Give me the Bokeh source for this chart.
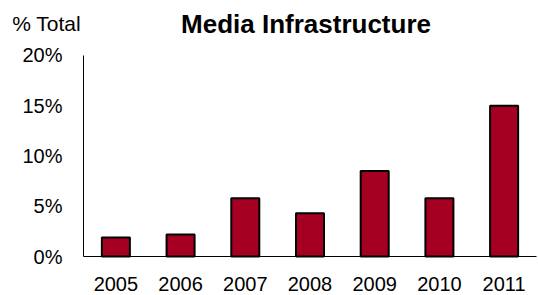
from bokeh.plotting import figure
from bokeh.models import (ColumnDataSource, Range1d, FixedTicker, PrintfTickFormatter,
                          Label, LinearAxis)
from bokeh.embed import file_html
from bokeh.resources import INLINE

years = ["2005", "2006", "2007", "2008", "2009", "2010", "2011"]
values = [1.9, 2.2, 5.8, 4.3, 8.5, 5.8, 15.0]
y_ticks = [0, 5, 10, 15, 20]
title_text = "Media Infrastructure"
y_title = "% Total"

FONT = "Liberation Sans"

positions = list(range(len(years)))
src = ColumnDataSource(data=dict(x=positions, value=values))

# frame covers the whole canvas; axes are placed inside it at fixed locations
p = figure(width=537, height=294,
           x_range=Range1d(-1.783, 6.516), y_range=Range1d(-3.78, 25.47),
           x_axis_location=None, y_axis_location=None,
           output_backend="svg", toolbar_location=None,
           min_border_left=0, min_border_right=0, min_border_top=0, min_border_bottom=0)

p.vbar(x="x", top="value", width=0.433, source=src,
       fill_color="#A50021", line_color="black", line_width=2)

p.xgrid.visible = False
p.ygrid.visible = False
p.outline_line_color = None
p.background_fill_color = "white"
p.border_fill_color = "white"

yaxis = LinearAxis(fixed_location=-0.5, bounds=(0, 20),
                   ticker=FixedTicker(ticks=y_ticks),
                   formatter=PrintfTickFormatter(format="%d%%"))
xaxis = LinearAxis(fixed_location=0, bounds=(-0.5, 6.5),
                   ticker=FixedTicker(ticks=positions),
                   major_label_overrides={i: y for i, y in zip(positions, years)})
for ax in (xaxis, yaxis):
    ax.major_tick_line_color = None
    ax.minor_tick_line_color = None
    ax.major_tick_out = 0
    ax.major_tick_in = 0
    ax.axis_line_color = "black"
    ax.axis_line_width = 1
    ax.major_label_text_font = FONT
    ax.major_label_text_font_size = "20px"
    ax.major_label_text_color = "black"
yaxis.major_label_standoff = 21
xaxis.major_label_standoff = 20
p.add_layout(yaxis, "left")
p.add_layout(xaxis, "below")

p.add_layout(Label(x=305.5, y=23, x_units="canvas", y_units="canvas", text=title_text,
                   text_font=FONT, text_font_size="26px", text_font_style="bold",
                   text_align="center", text_baseline="alphabetic", text_color="black"))
p.add_layout(Label(x=11.7, y=22.5, x_units="canvas", y_units="canvas", text=y_title,
                   text_font=FONT, text_font_size="21px",
                   text_align="left", text_baseline="alphabetic", text_color="black"))

open("out.html", "w").write(file_html(p, INLINE))
